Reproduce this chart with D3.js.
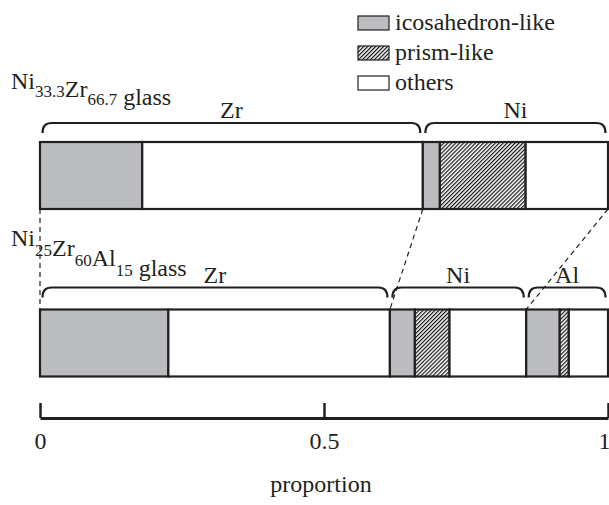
<!DOCTYPE html>
<html>
<head>
<meta charset="utf-8">
<script src="https://cdn.jsdelivr.net/npm/d3@7"></script>
<style>
  html, body { margin: 0; padding: 0; background: #fff; }
  svg { display: block; }
  text { font-family: "Liberation Serif", "Times New Roman", serif; fill: #231f20; }
</style>
</head>
<body>
<svg id="chart" width="609" height="505"></svg>
<script>
// Local-structure fractions per element for two metallic glasses
const categories = ["icosahedron-like", "prism-like", "others"];

const glassA = "Ni33.3Zr66.7";
const elementsA = ["Zr", "Ni"];
const icoA    = [0.180, 0.030];
const prismA  = [0.000, 0.151];
const othersA = [0.494, 0.145];

const glassB = "Ni25Zr60Al15";
const elementsB = ["Zr", "Ni", "Al"];
const icoB    = [0.226, 0.044, 0.059];
const prismB  = [0.000, 0.061, 0.016];
const othersB = [0.390, 0.135, 0.069];

const xTicks = [0, 0.5, 1];
const xTickLabels = ["0", "0.5", "1"];
const xTitle = "proportion";

const ink = "#231f20";
const grey = "#bbbcbf";
const fontSize = 24;

const svg = d3.select("#chart");
const x = d3.scaleLinear().domain([0, 1]).range([40, 608]);

// hatch pattern for prism-like
const defs = svg.append("defs");
const pat = defs.append("pattern")
  .attr("id", "hatch")
  .attr("patternUnits", "userSpaceOnUse")
  .attr("width", 2.8).attr("height", 2.8)
  .attr("patternTransform", "rotate(45)");
pat.append("rect").attr("width", 2.8).attr("height", 2.8).attr("fill", "#fff");
pat.append("rect").attr("x", 0).attr("width", 1.2).attr("height", 2.8).attr("fill", "#111");

const fillOf = { "icosahedron-like": grey, "prism-like": "url(#hatch)", "others": "#fff" };

function buildSegments(elements, ico, prism, others) {
  const segs = [];
  const spans = [];
  let acc = 0;
  elements.forEach((el, i) => {
    const start = acc;
    [["icosahedron-like", ico[i]], ["prism-like", prism[i]], ["others", others[i]]].forEach(([cat, v]) => {
      if (v > 0) segs.push({ el, cat, x0: acc, x1: acc + v });
      acc += v;
    });
    spans.push({ el, x0: start, x1: acc });
  });
  return { segs, spans };
}

const A = buildSegments(elementsA, icoA, prismA, othersA);
const B = buildSegments(elementsB, icoB, prismB, othersB);

const bars = [
  { name: glassA, data: A, top: 142, h: 67, braceTop: 123, labelY: 118, nameY: 89, subDy: 8 },
  { name: glassB, data: B, top: 309.5, h: 67, braceTop: 287.5, labelY: 283, nameY: 246, subDy: 10 }
];

// dashed guides between matching element boundaries
const bA = [0].concat(A.spans.map(s => s.x1));
const bB = [0].concat(B.spans.map(s => s.x1));
const guides = d3.range(Math.min(bA.length, bB.length)).map(i => [bA[i], bB[i]]);
svg.append("g").selectAll("line").data(guides).join("line")
  .attr("x1", d => x(d[0])).attr("y1", bars[0].top + bars[0].h)
  .attr("x2", d => x(d[1])).attr("y2", bars[1].top)
  .attr("stroke", ink).attr("stroke-width", 1.2)
  .attr("stroke-dasharray", "5,4");

function brace(x0, x1, yTop) {
  const r = 9, drop = 10;
  return `M${x0},${yTop + drop} Q${x0},${yTop} ${x0 + r},${yTop} L${x1 - r},${yTop} Q${x1},${yTop} ${x1},${yTop + drop}`;
}

bars.forEach(b => {
  const g = svg.append("g");
  g.selectAll("rect.seg").data(b.data.segs).join("rect")
    .attr("class", "seg")
    .attr("x", d => x(d.x0)).attr("y", b.top)
    .attr("width", d => x(d.x1) - x(d.x0)).attr("height", b.h)
    .attr("fill", d => fillOf[d.cat])
    .attr("stroke", ink).attr("stroke-width", 2.2);

  g.selectAll("path.brace").data(b.data.spans).join("path")
    .attr("class", "brace")
    .attr("d", d => brace(x(d.x0) + 2.5, x(d.x1) - 2.5, b.braceTop))
    .attr("fill", "none").attr("stroke", ink).attr("stroke-width", 2.2);

  g.selectAll("text.el").data(b.data.spans).join("text")
    .attr("class", "el")
    .attr("x", d => (x(d.x0) + x(d.x1)) / 2).attr("y", b.labelY)
    .attr("text-anchor", "middle").attr("font-size", fontSize)
    .text(d => d.el);
});

// composition titles with subscripts
function glassTitle(name, y, subDy) {
  const parts = name.match(/[A-Z][a-z]?|[0-9.]+/g);
  const t = svg.append("text").attr("x", 11).attr("y", y).attr("font-size", fontSize);
  parts.forEach(p => {
    if (/^[0-9.]/.test(p)) {
      t.append("tspan").attr("font-size", 17).attr("dy", subDy).text(p);
      t.append("tspan").attr("dy", -subDy).text("");
    } else {
      t.append("tspan").text(p);
    }
  });
  t.append("tspan").text(" glass");
}
bars.forEach(b => glassTitle(b.name, b.nameY, b.subDy));

// legend
const legend = svg.append("g").attr("transform", "translate(358,0)");
const rowY = [30, 60, 90];
categories.forEach((c, i) => {
  legend.append("rect")
    .attr("x", 0).attr("y", rowY[i] - 14).attr("width", 31).attr("height", 14)
    .attr("fill", fillOf[c]).attr("stroke", ink).attr("stroke-width", 1.2);
  legend.append("text").attr("x", 37).attr("y", rowY[i]).attr("font-size", fontSize).text(c);
});

// proportion axis
const axis = d3.axisBottom(x)
  .tickValues(xTicks)
  .tickFormat((d, i) => xTickLabels[i])
  .tickSize(-15).tickSizeOuter(0).tickPadding(14);
const ag = svg.append("g").attr("transform", "translate(0,418)").call(axis);
ag.select(".domain").attr("stroke", ink).attr("stroke-width", 3);
ag.selectAll(".tick line").attr("stroke", ink).attr("stroke-width", 2.5);
ag.selectAll(".tick text").attr("font-size", fontSize).attr("fill", ink)
  // keep the last label inside the frame
  .attr("text-anchor", d => d === 1 ? "end" : "middle")
  .attr("dx", d => d === 1 ? 2 : 0);

svg.append("text").attr("x", 321).attr("y", 492)
  .attr("text-anchor", "middle").attr("font-size", fontSize).text(xTitle);
</script>
</body>
</html>
